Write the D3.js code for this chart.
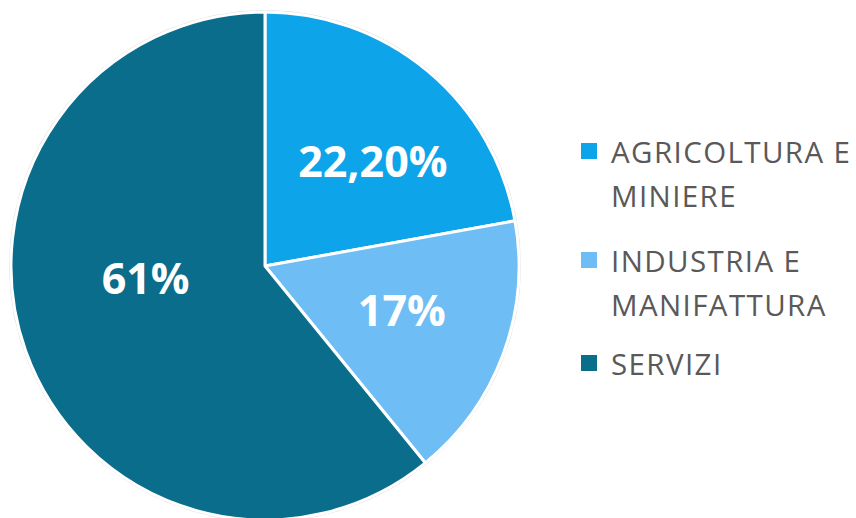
<!DOCTYPE html>
<html>
<head>
<meta charset="utf-8">
<script src="https://cdn.jsdelivr.net/npm/d3@7"></script>
<style>
  body { margin: 0; background: #fff; }
  svg { display: block; font-family: "Open Sans", sans-serif; }
</style>
</head>
<body>
<div id="chart"></div>
<script>
// dati del grafico
const categorie = ["AGRICOLTURA E MINIERE", "INDUSTRIA E MANIFATTURA", "SERVIZI"];
const righeLegenda = [["AGRICOLTURA E", "MINIERE"], ["INDUSTRIA E", "MANIFATTURA"], ["SERVIZI"]];
const valori = [22.2, 17, 61];
const etichette = ["22,20%", "17%", "61%"];
const colori = ["#0ea4ea", "#6ebdf4", "#0a6d8b"];

const width = 856, height = 518;
const cx = 265, cy = 266, radius = 254;
// spostamento delle etichette rispetto al centroide (come fa Excel)
const spostamenti = [[15, 7], [1, -6], [17, -36]];

const svg = d3.select("#chart")
    .append("svg")
    .attr("width", width)
    .attr("height", height);

const g = svg.append("g")
    .attr("transform", `translate(${cx},${cy})`);

const pie = d3.pie().sort(null).value(d => d);
const arcs = pie(valori);

const arc = d3.arc().innerRadius(0).outerRadius(radius);
const labelArc = d3.arc().innerRadius(radius * 0.57).outerRadius(radius * 0.57);

const color = d3.scaleOrdinal().domain(categorie).range(colori);

// bordo esterno sottile
g.append("circle")
    .attr("r", radius + 1.5)
    .attr("fill", "none")
    .attr("stroke", "#dcdcdc")
    .attr("stroke-width", 1);

g.selectAll("path.slice")
    .data(arcs)
    .enter().append("path")
    .attr("class", "slice")
    .attr("d", arc)
    .attr("fill", (d, i) => color(categorie[i]))
    .attr("stroke", "#fff")
    .attr("stroke-width", 3)
    .attr("stroke-linejoin", "round");

g.selectAll("text.lbl")
    .data(arcs)
    .enter().append("text")
    .attr("class", "lbl")
    .attr("transform", (d, i) => {
        const c = labelArc.centroid(d);
        return `translate(${c[0] + spostamenti[i][0]},${c[1] + spostamenti[i][1]})`;
    })
    .attr("text-anchor", "middle")
    .attr("dy", "0.36em")
    .attr("fill", "#fff")
    .attr("font-weight", 700)
    .attr("font-size", 43)
    .text((d, i) => etichette[i]);

// legenda
const legY = d3.scaleOrdinal().domain(categorie).range([163, 272, 375]);
const lineH = 44;

const leg = svg.append("g").attr("class", "legend");
const item = leg.selectAll("g.item")
    .data(categorie)
    .enter().append("g")
    .attr("class", "item")
    .attr("transform", d => `translate(0,${legY(d)})`);

item.append("rect")
    .attr("x", 581)
    .attr("y", -20)
    .attr("width", 16)
    .attr("height", 16)
    .attr("fill", d => color(d));

item.each(function(d, i) {
    const t = d3.select(this).append("text")
        .attr("x", 611)
        .attr("fill", "#595959")
        .attr("font-size", 29.5)
        .attr("letter-spacing", 1.4);
    righeLegenda[i].forEach((r, j) => {
        t.append("tspan")
            .attr("x", 611)
            .attr("y", j * lineH)
            .text(r);
    });
});
</script>
</body>
</html>
